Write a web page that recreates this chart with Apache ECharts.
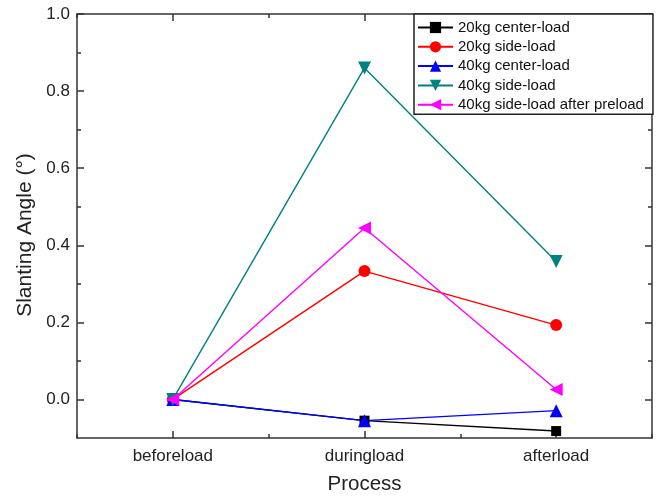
<!DOCTYPE html>
<html>
<head>
<meta charset="utf-8">
<script src="https://cdn.jsdelivr.net/npm/echarts@6/dist/echarts.min.js"></script>
<style>html,body{margin:0;padding:0;background:#fff}#c{width:662px;height:496px}</style>
</head>
<body>
<div id="c"></div>
<script>
var categories = ['beforeload', 'duringload', 'afterload'];
var center20 = [0, -0.055, -0.082];
var side20 = [0, 0.333, 0.193];
var center40 = [0, -0.055, -0.029];
var side40 = [0, 0.86, 0.358];
var side40Preload = [0, 0.445, 0.026];
var yMajorTicks = [0, 0.2, 0.4, 0.6, 0.8, 1.0];
var yMinorTicks = [0.1, 0.3, 0.5, 0.7, 0.9];
var seriesNames = ['20kg center-load', '20kg side-load', '40kg center-load', '40kg side-load', '40kg side-load after preload'];

var FONT = 'Liberation Sans';
var axisColor = '#333';

function catAxis(pos, major) {
  return {
    type: 'category', data: categories, position: pos, boundaryGap: true,
    axisLine: { show: major, onZero: false, lineStyle: { color: axisColor, width: 1.5 } },
    axisTick: { show: true, inside: true, alignWithLabel: major, length: major ? 7 : 4, lineStyle: { color: axisColor, width: 1.5 } },
    axisLabel: { show: false },
    splitLine: { show: false }
  };
}
function valAxis(pos, ticks, len, showLine) {
  return {
    type: 'value', position: pos, min: -0.1, max: 1.0,
    axisLine: { show: showLine, onZero: false, lineStyle: { color: axisColor, width: 1.5 } },
    axisTick: { show: true, inside: true, length: len, customValues: ticks, lineStyle: { color: axisColor, width: 1.5 } },
    axisLabel: { show: false, customValues: ticks },
    splitLine: { show: false }
  };
}

var xMain = catAxis('bottom', true);
xMain.axisLabel = { show: true, color: '#222', fontFamily: FONT, fontSize: 17, margin: 10 };
xMain.name = 'Process';
xMain.nameLocation = 'middle';
xMain.nameGap = 36;
xMain.nameTextStyle = { color: '#222', fontFamily: FONT, fontSize: 20.5 };

var yMain = valAxis('left', yMajorTicks, 7, true);
yMain.axisLabel = { show: true, customValues: yMajorTicks, color: '#222', fontFamily: FONT, fontSize: 17, margin: 7,
  formatter: function (v) { return v.toFixed(1); } };
yMain.name = 'Slanting Angle (°)';
yMain.nameLocation = 'middle';
yMain.nameGap = 35;
yMain.nameTextStyle = { color: '#222', fontFamily: FONT, fontSize: 21, padding: [0, 18, 0, 0] };

var styles = [
  { color: '#000000', symbol: 'rect', size: 10, rotate: 0 },
  { color: '#ff0000', symbol: 'circle', size: 12, rotate: 0 },
  { color: '#0000ff', symbol: 'triangle', size: 13, rotate: 0 },
  { color: '#008080', symbol: 'triangle', size: 13, rotate: 180 },
  { color: '#ff00ff', symbol: 'triangle', size: 13, rotate: 90 }
];
var datas = [center20, side20, center40, side40, side40Preload];

var series = datas.map(function (d, i) {
  var s = styles[i];
  return {
    name: seriesNames[i], type: 'line', data: d,
    xAxisIndex: 0, yAxisIndex: 0,
    symbol: s.symbol, symbolSize: s.size, symbolRotate: s.rotate,
    showAllSymbol: true,
    lineStyle: { color: s.color, width: 1.4 },
    itemStyle: { color: s.color },
    emphasis: { disabled: true },
    animation: false
  };
});

var chart = echarts.init(document.getElementById('c'), null, { renderer: 'canvas' });
chart.setOption({
  animation: false,
  backgroundColor: '#fff',
  grid: { left: 77, right: 10, top: 14, bottom: 58, containLabel: false, outerBoundsMode: 'none' },
  xAxis: [xMain, catAxis('bottom', false), catAxis('top', true), catAxis('top', false)],
  yAxis: [yMain, valAxis('left', yMinorTicks, 4, false), valAxis('right', yMajorTicks, 7, true), valAxis('right', yMinorTicks, 4, false)],
  legend: {
    orient: 'vertical', left: 414, top: 14,
    padding: [6, 9, 2, 3], itemGap: 4.3, itemWidth: 35, itemHeight: 14,
    backgroundColor: '#fff', borderColor: '#222', borderWidth: 1.5,
    textStyle: { color: '#111', fontFamily: FONT, fontSize: 15 },
    data: seriesNames
  },
  series: series
});
</script>
</body>
</html>
